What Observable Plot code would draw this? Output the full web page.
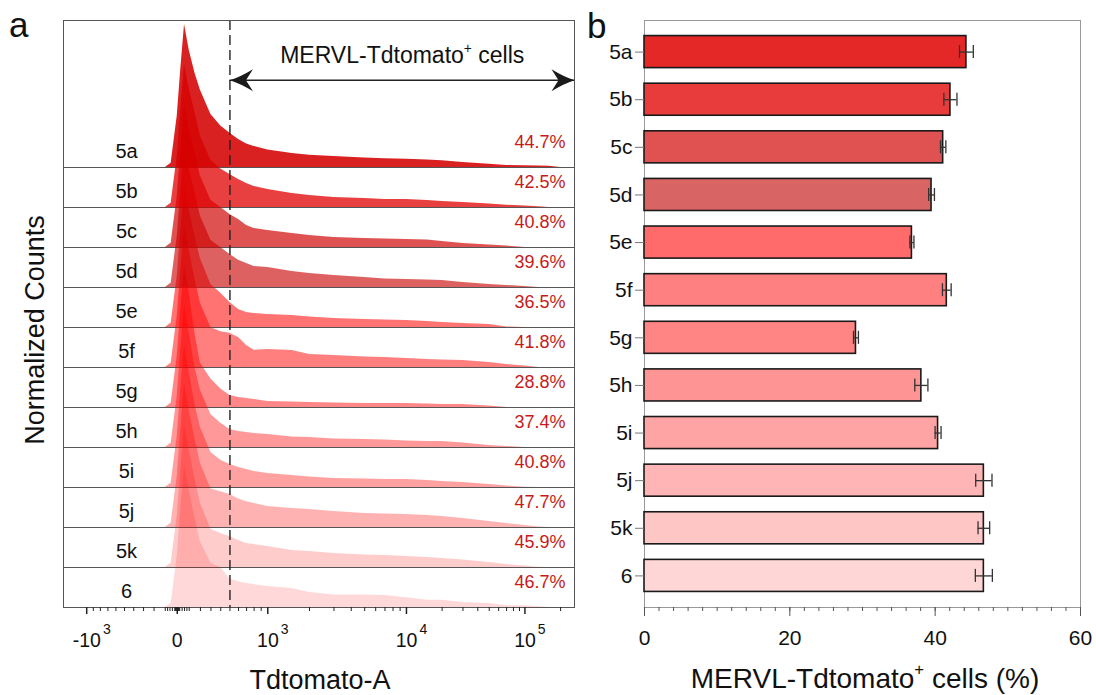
<!DOCTYPE html>
<html>
<head>
<meta charset="utf-8">
<script src="https://cdn.jsdelivr.net/npm/d3@7"></script>
<script src="https://cdn.jsdelivr.net/npm/@observablehq/plot@0.6"></script>
<style>
  html, body { margin: 0; padding: 0; background: #fff; }
  #wrap { position: relative; width: 1096px; height: 695px; overflow: hidden; font-family: "Liberation Sans", Arial, sans-serif; }
  #pa, #pb, #overlay { position: absolute; top: 0; }
  #pa { left: 0; }
  #pb { left: 590px; }
  #overlay { left: 0; pointer-events: none; }
</style>
</head>
<body>
<div id="wrap">
  <div id="pa"></div>
  <div id="pb"></div>
  <svg id="overlay" width="1096" height="695" font-family="'Liberation Sans', Arial, sans-serif" fill="#111">
    <text x="9" y="37" font-size="35">a</text>
    <text x="587" y="38" font-size="35">b</text>
    <text transform="translate(44,330) rotate(-90)" text-anchor="middle" font-size="27">Normalized Counts</text>
    <text x="320" y="689" text-anchor="middle" font-size="27">Tdtomato-A</text>
    <text x="865" y="688" text-anchor="middle" font-size="28">MERVL-Tdtomato<tspan font-size="60%" dy="-0.75em">+</tspan><tspan dy="0.45em"> cells (%)</tspan></text>
  </svg>
</div>
<script>
// ---------------- data ----------------
const samples = ["5a","5b","5c","5d","5e","5f","5g","5h","5i","5j","5k","6"];
const gatedPercent = ["44.7%","42.5%","40.8%","39.6%","36.5%","41.8%","28.8%","37.4%","40.8%","47.7%","45.9%","46.7%"];

// Tdtomato-A bin positions (channel values)
const binValues = [-150,-100,-50,0,30,60,100,150,200,300,400,500,600,700,800,1000,1500,2000,3000,5000,7000,10000,15000,20000,30000,50000,70000,100000,130000,160000,200000,262144];

// normalized counts (% of mode) per sample
const h5a = [0,0,3,36,70,100,82,66, 54,37,29,24,19.6,16.4,14.7,12.2, 9.8,8.6,7.7,6.7,6.2,5.7,5.2,4.8,3.5,2.2,1.4,1.2,1,0.8,0,0];
const h5b = [0,0,3,36,70,100,83,67, 50,33,27,23,19.6,16.8,14.7,12.6, 9.8,8.4,7,6.3,5.6,5.6,4.9,4.2,3.5,2.4,1.6,1,0.5,0,0,0];
const h5c = [0,0,3,36,70,100,83,67, 50,33,28,23,19.6,15.4,13.3,11.9, 9.8,8.4,7,6.3,5.9,5.6,5.2,4.2,2.8,1.7,1,0,0,0,0,0];
const h5d = [0,0,3,36,70,100,83,67, 50,33,28,23,19,16.8,14.7,14, 11.2,9.8,8.4,7,6,5.6,5.2,4.9,3.5,2.1,1.4,0.7,0,0,0,0];
const h5e = [0,0,3,36,70,100,82,64, 48,30,24,17.5,12.6,10.5,9.8,9.1, 8.4,7.3,6.3,5.6,5.2,4.9,4.2,3.5,2.8,2.1,0.3,0,0,0,0,0];
const h5f = [0,0,3,36,70,100,82,62, 45,28,25,24,21,15.4,12,12.6, 11.9,9.1,8.4,7.3,7,6.3,5.6,5.2,4.9,3.5,2.1,1,0,0,0,0];
const h5g = [0,0,3,36,70,100,80,52, 31,20,13,8.4,7,6.3,5.6,4.2, 3.8,3.5,3.1,2.8,2.8,2.8,2.4,2.1,2.1,1,0,0,0,0,0,0];
const h5h = [0,0,3,36,70,100,80,56, 40,23,17,12.6,11.2,10.5,9.8,9.1, 7.3,7,6,5.6,5.2,4.5,4.2,4.2,3.1,1.4,0.7,0,0,0,0,0];
const h5i = [0,0,3,36,70,100,81,58, 42,24.5,19,16,14,12.6,11.2,9.8, 8.4,7.3,6.3,6,5.6,5.6,4.9,4.2,3.5,2.1,1,0.2,0,0,0,0];
const h5j = [0,0,3,36,70,100,82,62, 45,27,25,23,20,18,16.8,14.7, 13.3,12.6,11.2,9.8,9.4,9.1,8.4,7.7,6.3,4.2,2.8,1.4,0.3,0,0,0];
const h5k = [0,0,3,36,70,100,82,62, 45,26.6,23.8,21.7,18.9,16.8,16,14.7, 11.9,11.2,9.8,8.7,8.4,7.7,7,6.3,5.2,3.5,2.1,1,0.2,0,0,0];
const h6  = [0,0,3,36,70,100,82,63, 46,31,28,20,18,16.8,16,14.7, 13.3,10.5,8.7,8.7,8.4,6.8,5.1,5.1,3.5,2.8,1.2,1.2,0.7,0,0,0];
const histograms = [h5a,h5b,h5c,h5d,h5e,h5f,h5g,h5h,h5i,h5j,h5k,h6];

const histFill = ["#d40000","#e00000","#d00000","#c80000","#ff0000","#ff0000","#ff0000","#ff0000","#ff0000","#ff0000","#ff0000","#ff0000"];
const histOpacity = [0.87,0.75,0.68,0.62,0.55,0.5,0.47,0.4,0.37,0.3,0.2,0.15];

// panel b: mean ± sd of MERVL-Tdtomato+ cells (%)
const meanPercent = [44.3,42.1,41.1,39.5,36.8,41.6,29.1,38.1,40.4,46.7,46.7,46.7];
const sdPercent   = [0.95,0.9,0.37,0.4,0.28,0.6,0.34,0.9,0.41,1.12,0.8,1.17];
const barColors = ["#e42828","#e83c3c","#e05252","#d96464","#ff6a6a","#ff8080","#ff8484","#ff9494","#ffa4a4","#ffb5b5","#ffc6c6","#ffd6d6"];

// axis ticks (panel a)
const majorTicks = [-1000, 0, 1000, 10000, 100000];
const majorTickLabels = ["-10^3", "0", "10^3", "10^4", "10^5"];
const minorTicks = [-900,-800,-700,-600,-500,-400,-300,-200,-100,-80,-60,-40,-20,-15,-10,-5,5,10,15,20,40,60,80,
  100,200,300,400,500,600,700,800,900,2000,3000,4000,5000,6000,7000,8000,9000,
  20000,30000,40000,50000,60000,70000,80000,90000,200000];
const gateValue = 500;
const axisMin = -1470, axisMax = 262144;
const barTicksMajor = [0, 20, 40, 60];

// ---------------- helpers ----------------
// biexponential-like display transform (FlowJo style)
function biex(v) {
  const a = Math.abs(v);
  let u;
  if (a <= 1000) u = 186.9 * (1 - Math.exp(-0.000662 * a));
  else if (a <= 1e4) u = 90.5 + 138.6 * Math.log10(a / 1000);
  else u = 229.1 + 118.4 * Math.log10(a / 1e4);
  return Math.sign(v) * u;
}
const NS = "http://www.w3.org/2000/svg";
function fixSuperscripts(svg) {
  svg.querySelectorAll("text").forEach(t => {
    const s = t.textContent;
    const m = s.match(/^(.*)\^(\d+)$/);
    if (m) {
      t.textContent = m[1];
      t.setAttribute("dx", "5");
      const ts = document.createElementNS(NS, "tspan");
      ts.setAttribute("dx", "2");
      ts.setAttribute("dy", "-13");
      ts.setAttribute("font-size", "14");
      ts.textContent = m[2];
      t.appendChild(ts);
    } else if (s.includes("⁺")) {
      const [a, b] = s.split("⁺");
      t.textContent = a;
      const sup = document.createElementNS(NS, "tspan");
      sup.setAttribute("font-size", "60%");
      sup.setAttribute("dy", "-0.75em");
      sup.textContent = "+";
      const rest = document.createElementNS(NS, "tspan");
      rest.setAttribute("dy", "0.45em");
      rest.textContent = b;
      t.appendChild(sup);
      t.appendChild(rest);
    }
  });
}
function setTickFont(svg, size) {
  svg.querySelectorAll('g[aria-label$="tick label"]').forEach(g => {
    g.setAttribute("font-size", size);
    g.style.fontSize = size + "px";
  });
}

const font = "'Liberation Sans', Arial, sans-serif";
const nRows = samples.length;
const rowLevel = i => nRows - 1 - i;
const peakRows = 143 / 40;      // mode height in row units
const topLevel = 14.675;
const arrowLevel = 13.18;
const arrowTextLevel = 13.8;

const rowData = histograms.map((h, i) => binValues.map((v, j) => ({
  u: biex(v), y1: rowLevel(i), y2: rowLevel(i) + h[j] / 100 * peakRows
})));

const arrowRight = { draw(ctx) {
  const L = 23, H = 11, N = 7;
  ctx.moveTo(0, 0);
  ctx.quadraticCurveTo(-L * 0.45, -H * 0.3, -L, -H);
  ctx.lineTo(-L + N, 0);
  ctx.lineTo(-L, H);
  ctx.quadraticCurveTo(-L * 0.45, H * 0.3, 0, 0);
  ctx.closePath();
}};
const arrowLeft = { draw(ctx) {
  const L = 23, H = 11, N = 7;
  ctx.moveTo(0, 0);
  ctx.quadraticCurveTo(L * 0.45, -H * 0.3, L, -H);
  ctx.lineTo(L - N, 0);
  ctx.lineTo(L, H);
  ctx.quadraticCurveTo(L * 0.45, H * 0.3, 0, 0);
  ctx.closePath();
}};

// ---------------- panel a ----------------
const marksA = [];
marksA.push(Plot.ruleY(d3.range(1, nRows), {stroke: "#555", strokeWidth: 1}));
for (let i = nRows - 1; i >= 0; i--) {
  marksA.push(Plot.areaY(rowData[i], {x: "u", y1: "y1", y2: "y2", fill: histFill[i], fillOpacity: histOpacity[i], curve: "linear"}));
}
marksA.push(Plot.ruleX([biex(gateValue)], {stroke: "#222", strokeWidth: 1.4, strokeDasharray: "10,5"}));
marksA.push(Plot.ruleY([arrowLevel], {x1: biex(gateValue), x2: biex(axisMax), stroke: "#222", strokeWidth: 1.4}));
marksA.push(Plot.dot([biex(gateValue)], {x: d => d, y: arrowLevel, symbol: arrowLeft, fill: "#1a1a1a", stroke: "none"}));
marksA.push(Plot.dot([biex(axisMax)], {x: d => d, y: arrowLevel, symbol: arrowRight, fill: "#1a1a1a", stroke: "none"}));
marksA.push(Plot.text(["MERVL-Tdtomato⁺ cells"], {x: (biex(gateValue) + biex(axisMax)) / 2, y: arrowTextLevel, fontSize: 23, fill: "#111"}));
marksA.push(Plot.text(samples, {frameAnchor: "left", dx: 63, textAnchor: "middle", y: (d, i) => rowLevel(i) + 0.39, fontSize: 20, fill: "#111"}));
marksA.push(Plot.text(gatedPercent, {frameAnchor: "right", dx: -9, textAnchor: "end", y: (d, i) => rowLevel(i) + 0.625, fontSize: 18, fill: "#c81a1a"}));
marksA.push(Plot.frame({stroke: "#555"}));
marksA.push(Plot.axisX({ticks: minorTicks.map(biex), tickSize: 4, tickFormat: () => "", label: null, stroke: "#222"}));
const majorU = majorTicks.map(biex);
marksA.push(Plot.axisX({ticks: majorU, tickSize: 7, tickPadding: 19, strokeWidth: 1.5, stroke: "#222", fill: "#111",
  tickFormat: u => majorTickLabels[majorU.indexOf(u)], label: null}));

const plotA = Plot.plot({
  width: 590, height: 695,
  marginLeft: 63, marginRight: 16, marginTop: 20, marginBottom: 88,
  x: {domain: [biex(axisMin), biex(axisMax)]},
  y: {domain: [0, topLevel], axis: null},
  style: {fontFamily: font, fontSize: "18px", color: "#111", background: "transparent", overflow: "visible"},
  marks: marksA
});
setTickFont(plotA, 19.5);
fixSuperscripts(plotA);
document.getElementById("pa").appendChild(plotA);

// ---------------- panel b ----------------
const barData = samples.map((s, i) => ({name: s, mean: meanPercent[i], sd: sdPercent[i], color: barColors[i]}));
const plotB = Plot.plot({
  width: 506, height: 695,
  marginLeft: 54, marginRight: 16, marginTop: 20, marginBottom: 88,
  x: {domain: [0, 60]},
  y: {domain: samples, padding: 0.327, round: false},
  color: {type: "identity"},
  style: {fontFamily: font, fontSize: "20px", color: "#111", background: "transparent", overflow: "visible"},
  marks: [
    Plot.frame({stroke: "#999"}),
    Plot.barX(barData, {x: "mean", y: "name", fill: "color", stroke: "#1a1a1a", strokeWidth: 1.6}),
    Plot.ruleY(barData, {y: "name", x1: d => d.mean - d.sd, x2: d => d.mean + d.sd, stroke: "#333", strokeWidth: 1.3}),
    Plot.tickX(barData, {y: "name", x: d => d.mean - d.sd, insetTop: 9.5, insetBottom: 9.5, stroke: "#333", strokeWidth: 1.3}),
    Plot.tickX(barData, {y: "name", x: d => d.mean + d.sd, insetTop: 9.5, insetBottom: 9.5, stroke: "#333", strokeWidth: 1.3}),
    Plot.axisY({tickSize: 9, tickPadding: 3, stroke: "#777", fill: "#111", label: null}),
    Plot.axisX({ticks: d3.range(0, 61, 2), tickSize: 4, tickFormat: () => "", stroke: "#555", label: null}),
    Plot.axisX({ticks: barTicksMajor, tickSize: 9, tickPadding: 14, stroke: "#555", fill: "#111", label: null})
  ]
});
setTickFont(plotB, 21);
document.getElementById("pb").appendChild(plotB);
</script>
</body>
</html>
